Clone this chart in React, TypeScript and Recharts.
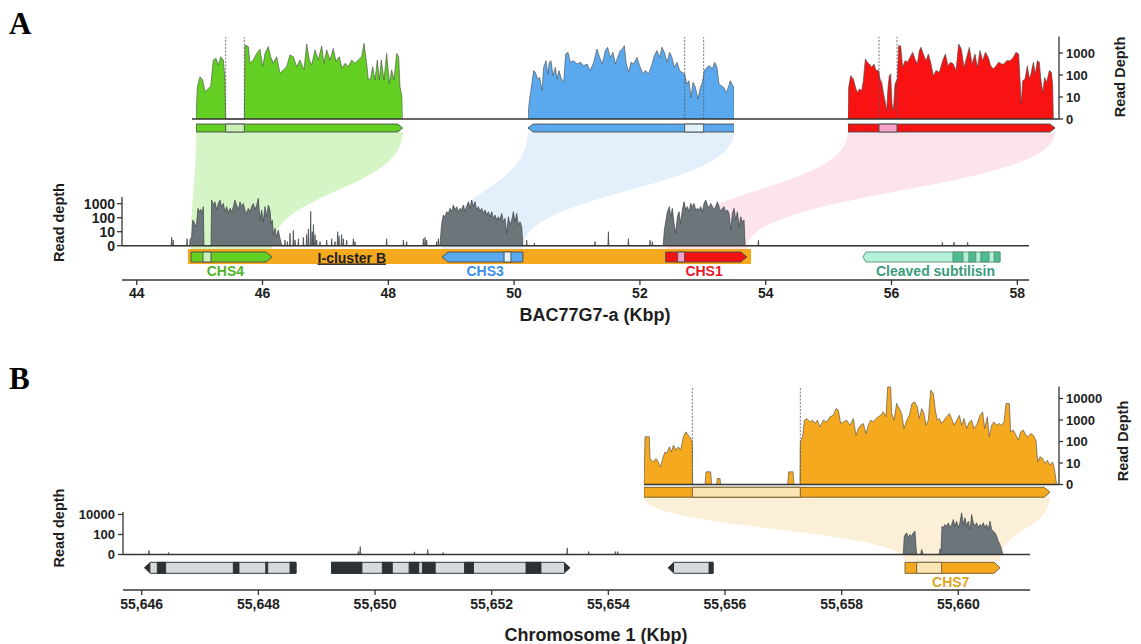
import React from 'react';
import { ComposedChart, Area, XAxis, YAxis, ReferenceArea, ReferenceLine, ReferenceDot } from 'recharts';

type Pt = [number, number];
type Seg = [number, number];
interface Gene { name: string; start: number; end: number; strand: number; segs: Seg[] }
interface GeneLabel { name: string; text: string; x: number; y: number }

// ---------------- Panel A, zoomed tracks: [position in gene (bp), log10 read depth]
const chs4Zoom: Pt[] = [
  [0, 0], [8, 1.47], [24, 1.92], [40, 1.77], [54, 1.24], [74, 1.39], [88, 1.47], [104, 2.68], [120, 2.76], [134, 2.45], [148, 2.83], [164, 2.68], [174, 1.85], [178, 0],
  [290, 0], [294, 3.36], [314, 3.29], [324, 2.53], [344, 2.68], [364, 2.98], [384, 3.17], [400, 2.38], [414, 2.98], [434, 3.29], [448, 2.83], [464, 2.53], [484, 2.83], [504, 2.08], [524, 2.23], [544, 2.38], [564, 2.91], [584, 2.83], [604, 2.38], [624, 2.68], [648, 2.23], [664, 3.41], [680, 2.68], [694, 2.45], [714, 3.14], [734, 2.68], [754, 3.32], [768, 2.53], [784, 3.14], [804, 2.68], [824, 3.21], [840, 2.61], [860, 2.83], [876, 2.3], [894, 2.53], [914, 2.38], [934, 2.68], [954, 2.53], [974, 2.68], [994, 2.83], [1008, 3.44], [1024, 2.53], [1034, 1.77], [1048, 1.85], [1060, 2.38], [1074, 1.77], [1088, 2.68], [1100, 1.77], [1112, 2.68], [1128, 1.77], [1144, 2.98], [1160, 1.62], [1174, 2.23], [1188, 1.77], [1204, 2.98], [1216, 2.83], [1224, 1.47], [1236, 1.02], [1240, 0],
];
const chs3Zoom: Pt[] = [
  [0, 0], [6, 0.68], [34, 2.2], [44, 2.12], [58, 1.82], [70, 1.89], [84, 1.29], [94, 2.35], [108, 2.65], [118, 2.05], [128, 2.58], [138, 2.65], [150, 1.97], [164, 2.35], [174, 1.82], [186, 2.2], [200, 1.82], [214, 1.67], [226, 2.95], [240, 3.03], [254, 2.58], [274, 2.65], [294, 2.5], [314, 2.58], [334, 2.42], [354, 2.5], [374, 2.2], [394, 2.58], [414, 3.18], [430, 2.8], [446, 2.5], [464, 3.11], [478, 3.26], [494, 2.8], [510, 3.03], [524, 2.5], [538, 2.8], [554, 3.11], [566, 3.18], [578, 3.33], [590, 2.5], [604, 2.12], [618, 2.58], [634, 2.5], [654, 2.8], [670, 2.42], [690, 2.05], [704, 2.2], [724, 2.05], [744, 2.5], [758, 2.88], [774, 3.11], [790, 2.8], [804, 3.26], [818, 3.03], [834, 2.58], [850, 3.03], [864, 2.8], [878, 2.35], [894, 2.58], [910, 2.2], [924, 2.12], [940, 2.05], [954, 1.59], [966, 1.74], [978, 0.98], [990, 1.67], [1004, 1.44], [1020, 0.91], [1034, 1.44], [1046, 1.67], [1058, 2.2], [1074, 2.35], [1090, 2.42], [1106, 2.27], [1120, 2.58], [1134, 2.35], [1146, 1.59], [1158, 1.52], [1174, 1.44], [1190, 1.21], [1202, 1.44], [1214, 1.74], [1228, 1.52], [1236, 1.44], [1238, 0],
];
const chs1Zoom: Pt[] = [
  [0, 0], [4, 1.44], [16, 1.97], [32, 1.82], [48, 1.36], [58, 1.21], [68, 1.36], [82, 1.29], [92, 1.74], [104, 2.73], [116, 2.58], [128, 2.5], [142, 2.35], [156, 2.5], [168, 2.2], [184, 2.2], [192, 1.82], [202, 1.67], [212, 1.21], [222, 0.83], [232, 0.38], [240, 1.44], [248, 1.97], [256, 2.05], [264, 0.68], [272, 0.38], [282, 1.59], [296, 1.82], [304, 3.33], [316, 3.33], [328, 2.35], [342, 2.65], [356, 2.58], [372, 2.8], [388, 3.03], [402, 2.73], [416, 2.5], [428, 3.11], [438, 3.26], [452, 2.95], [468, 2.65], [482, 2.95], [496, 2.58], [512, 1.97], [528, 2.2], [548, 2.12], [568, 2.65], [584, 2.95], [600, 2.42], [616, 2.58], [632, 2.5], [648, 2.2], [664, 3.41], [680, 3.18], [696, 2.35], [712, 2.8], [728, 3.26], [744, 2.5], [762, 2.95], [776, 2.35], [792, 3.11], [808, 2.65], [824, 3.03], [842, 2.8], [856, 2.42], [872, 2.27], [888, 2.42], [904, 2.58], [922, 2.5], [936, 2.5], [952, 2.65], [972, 2.65], [992, 2.8], [1008, 3.03], [1024, 2.95], [1032, 1.82], [1040, 0.68], [1048, 1.74], [1062, 1.82], [1076, 2.42], [1088, 1.82], [1098, 2.05], [1112, 2.58], [1124, 2.05], [1136, 2.65], [1148, 2.58], [1156, 1.89], [1168, 1.21], [1180, 1.89], [1192, 1.67], [1208, 2.2], [1220, 2.12], [1228, 1.59], [1232, 0],
];
const chs4ZoomGene: Gene = { name: 'chs4', start: 0, end: 1240, strand: 1, segs: [[178, 290]] };
const chs3ZoomGene: Gene = { name: 'chs3', start: 0, end: 1238, strand: -1, segs: [[940, 1054]] };
const chs1ZoomGene: Gene = { name: 'chs1', start: 0, end: 1242, strand: 1, segs: [[186, 294]] };

// ---------------- Panel A, BAC77G7-a: [kbp, log10 read depth]
const bacCoverage: Pt[] = [
  [44.842, 0], [44.847, 0.4], [44.874, 0.64], [44.889, 1.83], [44.911, 1.71], [44.932, 1.36], [44.953, 1.6], [44.974, 2.67], [44.995, 2.43], [45.017, 2.6], [45.038, 2.31], [45.059, 2.79], [45.07, 0],
  [45.181, 0], [45.191, 3.26], [45.218, 2.9], [45.244, 3.14], [45.271, 2.55], [45.297, 3.02], [45.324, 3.26], [45.35, 2.79], [45.377, 3.02], [45.403, 2.43], [45.43, 2.79], [45.456, 2.31], [45.483, 2.67], [45.509, 2.43], [45.536, 2.79], [45.562, 3.26], [45.589, 2.9], [45.615, 2.55], [45.642, 3.14], [45.668, 2.79], [45.695, 3.02], [45.721, 2.55], [45.748, 2.31], [45.774, 2.67], [45.801, 2.43], [45.827, 2.79], [45.854, 3.02], [45.88, 2.55], [45.907, 2.9], [45.933, 3.38], [45.96, 1.83], [45.986, 2.55], [46.013, 1.71], [46.039, 2.79], [46.066, 2.07], [46.092, 2.9], [46.119, 2.55], [46.135, 1.6], [46.156, 1.83], [46.172, 0.76], [46.198, 1.24], [46.225, 0.64], [46.251, 1.12], [46.278, 0.52], [46.299, 0.17], [46.315, 0],
  [48.82, 0], [48.849, 1.6], [48.875, 2.19], [48.902, 2.07], [48.928, 2.43], [48.955, 2.31], [48.981, 2.67], [49.008, 2.43], [49.034, 2.9], [49.061, 2.55], [49.087, 2.79], [49.114, 2.43], [49.14, 2.67], [49.167, 2.55], [49.193, 2.9], [49.22, 2.43], [49.246, 2.79], [49.273, 3.14], [49.299, 2.67], [49.326, 3.26], [49.352, 2.79], [49.379, 3.14], [49.405, 2.55], [49.432, 2.79], [49.458, 2.43], [49.485, 2.67], [49.511, 2.31], [49.538, 2.55], [49.564, 2.19], [49.591, 2.43], [49.617, 2.07], [49.644, 2.43], [49.67, 1.95], [49.697, 2.19], [49.723, 1.83], [49.75, 2.07], [49.776, 1.83], [49.803, 2.31], [49.829, 1.71], [49.856, 1.95], [49.882, 0.88], [49.909, 2.07], [49.935, 1.48], [49.962, 1.83], [49.988, 2.43], [50.015, 1.71], [50.041, 2.31], [50.068, 1.48], [50.094, 1.71], [50.121, 1.36], [50.14, 0],
  [52.37, 0], [52.389, 1.12], [52.415, 1.83], [52.437, 2.43], [52.468, 2.79], [52.49, 2.07], [52.516, 2.67], [52.543, 1.6], [52.569, 0.88], [52.596, 2.07], [52.622, 2.43], [52.649, 1.6], [52.675, 2.55], [52.702, 3.14], [52.728, 2.55], [52.755, 2.79], [52.781, 2.43], [52.808, 3.02], [52.834, 2.79], [52.861, 3.02], [52.887, 2.55], [52.914, 2.67], [52.94, 2.55], [52.967, 2.79], [52.993, 2.43], [53.02, 3.02], [53.046, 3.26], [53.073, 2.9], [53.099, 2.67], [53.126, 3.02], [53.152, 2.79], [53.179, 2.55], [53.205, 2.79], [53.232, 3.14], [53.258, 2.79], [53.285, 2.43], [53.311, 2.67], [53.338, 2.79], [53.364, 2.43], [53.391, 2.55], [53.417, 2.31], [53.444, 1.12], [53.47, 2.31], [53.497, 2.67], [53.523, 1.83], [53.55, 2.43], [53.576, 1.36], [53.603, 2.07], [53.629, 1.71], [53.656, 1.83], [53.672, 0],
];
const bacSpikes: Pt[] = [
  [44.556, 0.6], [44.58, 0.4], [44.8, 0.5], [46.357, 0.4], [46.395, 0.3], [46.437, 0.9], [46.49, 1.1], [46.517, 0.4], [46.57, 0.5], [46.649, 0.6], [46.702, 0.8], [46.729, 1.2], [46.766, 2.45], [46.79, 1.0], [46.81, 1.5], [46.835, 0.8], [46.861, 0.4], [46.914, 0.3], [47.02, 0.4], [47.1, 0.5], [47.152, 0.3], [47.195, 1.0], [47.216, 0.7], [47.258, 0.8], [47.285, 0.5], [47.338, 0.4], [47.444, 0.5], [47.47, 0.3], [47.974, 0.5], [48.239, 0.4], [48.292, 0.3], [48.557, 0.5], [48.584, 0.6], [48.61, 0.4], [48.769, 0.3], [48.796, 0.5], [50.2, 0.4], [50.322, 0.2], [51.287, 0.3], [51.499, 1.0], [51.817, 0.5], [52.161, 0.4], [52.198, 0.3], [53.884, 0.4], [56.808, 0.25], [56.993, 0.25], [57.21, 0.25],
];
const bacGenes: Gene[] = [
  { name: 'icluster', start: 44.816, end: 53.767, strand: 0, segs: [] },
  { name: 'chs4', start: 44.863, end: 46.151, strand: 1, segs: [[45.054, 45.181]] },
  { name: 'chs3', start: 48.854, end: 50.14, strand: -1, segs: [[49.84, 49.95]] },
  { name: 'chs1', start: 52.41, end: 53.7, strand: 1, segs: [[52.6, 52.71]] },
  { name: 'subtilisin', start: 55.545, end: 57.725, strand: -1, segs: [[56.977, 57.136], [57.23, 57.34], [57.42, 57.55], [57.63, 57.725]] },
];
const bacLabels: GeneLabel[] = [
  { name: 'chs4', text: 'CHS4', x: 45.41, y: -1.77 },
  { name: 'icluster', text: 'I-cluster B', x: 47.42, y: -0.84 },
  { name: 'chs3', text: 'CHS3', x: 49.54, y: -1.77 },
  { name: 'chs1', text: 'CHS1', x: 53.02, y: -1.77 },
  { name: 'subtilisin', text: 'Cleaved subtilisin', x: 56.7, y: -1.77 },
];
const bacTicks = [44, 46, 48, 50, 52, 54, 56, 58];

// ---------------- Panel B, zoomed CHS7 track
const chs7Zoom: Pt[] = [
  [0, 0], [3, 2.22], [16, 2.22], [18, 1.21], [23, 1.13], [28, 1.05], [36, 1.21], [43, 1.05], [50, 0.82], [56, 1.21], [63, 1.52], [68, 1.44], [76, 1.75], [83, 1.52], [88, 1.83], [96, 1.6], [103, 1.75], [110, 1.6], [118, 2.22], [126, 2.45], [133, 2.29], [140, 2.14], [145, 1.98], [146, 0],
  [183, 0], [186, 0.59], [200, 0.59], [203, 0], [218, 0], [220, 0.28], [228, 0.28], [230, 0], [431, 0], [434, 0.59], [447, 0.59], [450, 0],
  [468, 0], [469, 1.98], [476, 2.22], [481, 2.99], [488, 3.07], [498, 2.91], [506, 2.99], [513, 2.84], [520, 2.99], [528, 2.68], [538, 2.99], [548, 2.91], [558, 3.15], [568, 3.22], [576, 3.53], [583, 3.46], [590, 2.84], [598, 2.91], [608, 2.99], [618, 2.76], [628, 3.07], [636, 2.29], [643, 2.6], [650, 2.76], [658, 2.84], [666, 2.37], [673, 2.76], [680, 2.99], [688, 2.91], [696, 3.07], [703, 3.15], [710, 3.22], [718, 3.38], [726, 3.15], [731, 4.54], [740, 4.54], [743, 3.3], [750, 2.99], [758, 3.77], [766, 3.53], [773, 3.3], [780, 2.6], [788, 2.99], [796, 3.22], [804, 3.77], [812, 3.84], [820, 3.61], [826, 3.07], [833, 3.53], [840, 3.3], [846, 2.76], [853, 2.99], [860, 4.39], [868, 4.23], [874, 3.46], [880, 2.99], [886, 3.07], [893, 2.84], [900, 2.99], [908, 3.15], [916, 3.3], [923, 3.07], [930, 2.76], [938, 2.99], [946, 3.22], [953, 2.76], [960, 3.07], [968, 2.6], [976, 2.91], [983, 2.99], [990, 2.6], [998, 2.76], [1008, 3.22], [1016, 3.38], [1022, 2.6], [1030, 3.15], [1036, 2.22], [1043, 2.76], [1050, 2.91], [1058, 2.76], [1066, 2.84], [1073, 2.76], [1080, 2.91], [1086, 3.77], [1096, 3.77], [1100, 2.45], [1108, 2.53], [1116, 2.29], [1123, 2.06], [1130, 2.45], [1138, 2.53], [1146, 2.29], [1153, 2.22], [1160, 2.37], [1168, 2.29], [1176, 2.06], [1181, 1.05], [1188, 1.29], [1196, 1.21], [1203, 0.98], [1210, 1.13], [1218, 0.9], [1226, 1.05], [1231, 0.74], [1236, 0.2], [1238, 0],
];
const chs7ZoomGene: Gene = { name: 'chs7', start: 0, end: 1218, strand: 1, segs: [[145, 469]] };

// ---------------- Panel B, chromosome 1: [kbp, log10 read depth]
const chrCoverage: Pt[] = [
  [55659.057, 0], [55659.074, 1.83], [55659.114, 2.17], [55659.143, 1.67], [55659.171, 2.0], [55659.2, 1.83], [55659.228, 2.17], [55659.257, 2.33], [55659.274, 0.83], [55659.286, 0],
  [55659.354, 0], [55659.371, 0.5], [55659.4, 0],
  [55659.674, 0], [55659.686, 0.57], [55659.703, 0.3], [55659.72, 2.83], [55659.743, 2.67], [55659.771, 3.0], [55659.8, 2.83], [55659.828, 3.17], [55659.857, 2.67], [55659.886, 3.0], [55659.914, 3.5], [55659.943, 2.83], [55659.971, 3.33], [55660.0, 2.67], [55660.028, 3.17], [55660.057, 4.17], [55660.085, 3.0], [55660.114, 3.67], [55660.143, 2.83], [55660.171, 3.33], [55660.2, 2.5], [55660.228, 4.0], [55660.257, 3.17], [55660.285, 2.83], [55660.314, 3.17], [55660.343, 2.67], [55660.371, 3.0], [55660.4, 2.83], [55660.428, 3.17], [55660.457, 2.67], [55660.485, 3.0], [55660.514, 2.5], [55660.543, 3.33], [55660.571, 2.5], [55660.6, 2.33], [55660.628, 2.17], [55660.657, 1.83], [55660.685, 1.33], [55660.714, 1.0], [55660.743, 0.5], [55660.76, 0],
];
const chrSpikes: Pt[] = [
  [55646.125, 0.43], [55646.46, 0.2], [55649.715, 0.3], [55649.746, 0.8], [55650.677, 0.27], [55650.903, 0.5], [55651.167, 0.2], [55653.295, 0.67], [55653.662, 0.3], [55654.12, 0.3], [55654.16, 0.3],
];
const chrGenes: Gene[] = [
  { name: 'grey', start: 55646.045, end: 55648.645, strand: -1, segs: [[55646.267, 55646.411], [55647.57, 55647.668], [55648.126, 55648.16], [55648.542, 55648.645]] },
  { name: 'grey', start: 55649.254, end: 55653.343, strand: 1, segs: [[55649.254, 55649.775], [55650.125, 55650.296], [55650.584, 55650.75], [55650.812, 55651.032], [55651.534, 55651.688], [55652.588, 55652.845]] },
  { name: 'grey', start: 55655.023, end: 55655.795, strand: -1, segs: [[55655.726, 55655.795]] },
  { name: 'chs7', start: 55659.086, end: 55660.715, strand: 1, segs: [[55659.286, 55659.715]] },
];
const chrLabels: GeneLabel[] = [{ name: 'chs7', text: 'CHS7', x: 55659.87, y: -2.78 }];
const chrTicks = [55646, 55648, 55650, 55652, 55654, 55656, 55658, 55660];

// ---------------- depth axes (log10 levels and labels)
const depthTicks3 = [0, 1, 2, 3];
const depthLabels3 = ['0', '10', '100', '1000'];
const depthTicks4 = [0, 1, 2, 3, 4];
const depthLabels4 = ['0', '10', '100', '1000', '10000'];
const depthTicksChr = [0, 2, 4];
const depthLabelsChr = ['0', '100', '10000'];

// ---------------- styles & layout
const FONT = '"Liberation Sans", Arial, Helvetica, sans-serif';
const INK = '#353535';
const GENE_STYLE: Record<string, { fill: string; seg: string; tip?: string; stroke: string; tipPx?: number }> = {
  icluster: { fill: '#f5a91e', seg: '#f5a91e', stroke: 'none' },
  chs4: { fill: '#63cf22', seg: '#c9f1b6', stroke: '#4a4a4a' },
  chs3: { fill: '#5aa9ee', seg: '#e1f2fb', stroke: '#4a4a4a' },
  chs1: { fill: '#f31313', seg: '#f4a2c6', stroke: '#4a4a4a' },
  subtilisin: { fill: '#b5f0d8', seg: '#4dbd8d', stroke: '#5c8f7a', tipPx: 3 },
  grey: { fill: '#d5dbdc', seg: '#2d3134', tip: '#2d3134', stroke: '#2d3134' },
  chs7: { fill: '#f5a91e', seg: '#fbe5b4', stroke: '#6f5a2c' },
};
const LABEL_COLOR: Record<string, string> = {
  chs4: '#50b22a', icluster: '#1e1e1e', chs3: '#3b8fe6', chs1: '#e8182a', subtilisin: '#3a9c7c', chs7: '#e0a424',
};
const COV_FILL = { chs4: '#63cf22', chs3: '#5aa9ee', chs1: '#f81212', chs7: '#f5a91e', gray: '#6c7579' };

const PX_A = 1 / 6; // px per bp in panel A zoom tracks
const PX_B = 1 / 3; // px per bp in panel B zoom track
const TOP_A = { top: 31, h: 110, axisLeft: 192, axisRight: 1059 };
const TRACKS_A = [
  { key: 'chs4', data: chs4Zoom, gene: chs4ZoomGene, left: 196, dom: [0, 1240] as [number, number] },
  { key: 'chs3', data: chs3Zoom, gene: chs3ZoomGene, left: 527.7, dom: [0, 1238] as [number, number] },
  { key: 'chs1', data: chs1Zoom, gene: chs1ZoomGene, left: 848, dom: [0, 1242] as [number, number] },
];
const LOW_A = { left: 122, top: 197, w: 907, h: 83, dom: [43.766, 58.186] as [number, number], lev: [-2.45, 3.48] as [number, number] };
const TOP_B = { left: 644, top: 377, h: 129, dom: [0, 1245] as [number, number] };
const LOW_B = { left: 123, top: 512, w: 907, h: 78, dom: [55645.679, 55661.229] as [number, number], lev: [-3.55, 4.25] as [number, number] };
const YW = 60;
const XH = 30;
const PAD = 10;

const rows = (pts: Pt[]) => pts.map(([x, v]) => ({ x, v }));
function withSpikes(blocks: Pt[], spikes: Pt[], hw: number) {
  const out = rows(blocks);
  spikes.forEach(([x, v]) => { out.push({ x: x - hw, v: 0 }, { x, v }, { x: x + hw, v: 0 }); });
  return out.sort((a, b) => a.x - b.x);
}

function arrowShape(strand: number, tipPx: number, fill: string, tipFill: string, stroke: string) {
  return (p: any) => {
    const x = Number(p.x), y = Number(p.y), w = Number(p.width), h = Number(p.height);
    if (!isFinite(x) || !isFinite(w) || !isFinite(y) || !isFinite(h)) return <g />;
    const t = strand === 0 ? 0 : Math.min(tipPx, w / 2);
    const pts = strand >= 0
      ? [[x, y], [x + w - t, y], [x + w, y + h / 2], [x + w - t, y + h], [x, y + h]]
      : [[x + t, y], [x + w, y], [x + w, y + h], [x + t, y + h], [x, y + h / 2]];
    const poly = pts.map((q) => q.join(',')).join(' ');
    const bx = strand >= 0 ? x : x + t;
    return (
      <g>
        <polygon points={poly} fill={tipFill} />
        <rect x={bx} y={y} width={Math.max(0, w - t)} height={h} fill={fill} />
        <polygon points={poly} fill="none" stroke={stroke} strokeWidth={0.9} />
      </g>
    );
  };
}

function geneMarks(genes: Gene[], y1: number, y2: number, tipPx: number, prefix: string) {
  const out: React.ReactNode[] = [];
  genes.forEach((g, gi) => {
    const s = GENE_STYLE[g.name];
    out.push(
      <ReferenceArea key={`${prefix}-g${gi}`} x1={g.start} x2={g.end} y1={y1} y2={y2} ifOverflow="visible"
        shape={arrowShape(g.strand, s.tipPx ?? tipPx, s.fill, s.tip ?? s.fill, s.stroke)} />
    );
    g.segs.forEach(([a, b], i) => {
      out.push(
        <ReferenceArea key={`${prefix}-g${gi}-s${i}`} x1={a} x2={b} y1={y1} y2={y2} ifOverflow="visible"
          fill={s.seg} fillOpacity={1} stroke={s.stroke} strokeWidth={0.9} />
      );
    });
  });
  return out;
}

function labelMarks(labels: GeneLabel[], size: number) {
  return labels.map((l) => (
    <ReferenceDot key={l.text} x={l.x} y={l.y} r={0} ifOverflow="visible"
      shape={(p: any) => (
        <text x={p.cx} y={p.cy} dy="0.36em" textAnchor="middle" fontFamily={FONT} fontWeight={700} fontSize={size}
          fill={LABEL_COLOR[l.name]} style={l.name === 'icluster' ? { textDecoration: 'underline' } : undefined}>{l.text}</text>
      )} />
  ));
}

function dashMarks(gene: Gene, top: number) {
  const xs: number[] = [];
  gene.segs.forEach(([a, b]) => { xs.push(a, b); });
  return xs.map((x, i) => (
    <ReferenceLine key={`d${i}`} segment={[{ x, y: 0 }, { x, y: top }]} stroke="#555" strokeWidth={0.8} strokeDasharray="2 1.5" zIndex={1500} />
  ));
}

const tickStyle = (size: number) => ({ fontSize: size, fontWeight: 700, fill: '#1e1e1e', fontFamily: FONT });
const fmtFrom = (ticks: number[], labels: string[]) => (v: any) => labels[ticks.indexOf(Number(v))] ?? '';
const pos = (left: number, top: number): React.CSSProperties => ({ position: 'absolute', left, top });
const lin = (v: number, d: [number, number], p0: number, w: number) => p0 + ((v - d[0]) / (d[1] - d[0])) * w;

export default function App() {
  // connector ribbons between zoomed tracks and genome tracks
  const ribbonRowsA = [
    { y: 132 } as Record<string, any>,
    { y: 249 } as Record<string, any>,
  ];
  TRACKS_A.forEach((t) => {
    const low = bacGenes.find((g) => g.name === t.key)!;
    ribbonRowsA[0][t.key] = [t.left + t.gene.start * PX_A, t.left + t.gene.end * PX_A];
    ribbonRowsA[1][t.key] = [lin(low.start, LOW_A.dom, LOW_A.left, LOW_A.w), lin(low.end, LOW_A.dom, LOW_A.left, LOW_A.w)];
  });
  const chs7Low = chrGenes.find((g) => g.name === 'chs7')!;
  const ribbonRowsB = [
    { y: 497, chs7: [TOP_B.left + chs7ZoomGene.start * PX_B, TOP_B.left + chs7ZoomGene.end * PX_B] },
    { y: 561, chs7: [lin(chs7Low.start, LOW_B.dom, LOW_B.left, LOW_B.w), lin(chs7Low.end, LOW_B.dom, LOW_B.left, LOW_B.w)] },
  ];
  const ribbonFill: Record<string, string> = { chs4: '#d6f5c6', chs3: '#e3f0fb', chs1: '#fde3eb', chs7: '#fcefd8' };

  const bacRows = withSpikes(bacCoverage, bacSpikes, 0.008);
  const chrRows = withSpikes(chrCoverage, chrSpikes, 0.009);
  const topBW = (TOP_B.dom[1] - TOP_B.dom[0]) * PX_B;

  return (
    <div style={{ position: 'absolute', left: 0, top: 0, width: 1141, height: 644, overflow: 'hidden', background: '#fff' }}>
      {/* ribbons A */}
      <div style={pos(0, 0)}>
        <ComposedChart width={1141} height={644} layout="vertical" data={ribbonRowsA} margin={{ top: 0, right: 0, bottom: 0, left: 0 }}>
          <XAxis type="number" domain={[0, 1141]} hide allowDataOverflow />
          <YAxis type="number" dataKey="y" domain={[0, 644]} hide allowDataOverflow />
          {TRACKS_A.map((t) => (
            <Area key={t.key} dataKey={t.key} type="bumpY" fill={ribbonFill[t.key]} fillOpacity={1} stroke="none" isAnimationActive={false} dot={false} activeDot={false} />
          ))}
        </ComposedChart>
      </div>
      {/* ribbon B */}
      <div style={pos(0, 0)}>
        <ComposedChart width={1141} height={644} layout="vertical" data={ribbonRowsB} margin={{ top: 0, right: 0, bottom: 0, left: 0 }}>
          <XAxis type="number" domain={[0, 1141]} hide allowDataOverflow />
          <YAxis type="number" dataKey="y" domain={[0, 644]} hide allowDataOverflow />
          <Area dataKey="chs7" type="bumpY" fill={ribbonFill.chs7} fillOpacity={1} stroke="none" isAnimationActive={false} dot={false} activeDot={false} />
        </ComposedChart>
      </div>

      {/* Panel A zoom tracks */}
      {TRACKS_A.map((t) => (
        <div key={t.key} style={pos(t.left, TOP_A.top)}>
          <ComposedChart width={(t.dom[1] - t.dom[0]) * PX_A} height={TOP_A.h} data={rows(t.data)} margin={{ top: 0, right: 0, bottom: 0, left: 0 }}>
            <XAxis type="number" dataKey="x" domain={t.dom} hide allowDataOverflow />
            <YAxis type="number" domain={[-1, 4]} hide allowDataOverflow />
            <Area dataKey="v" type="linear" baseValue={0} fill={(COV_FILL as any)[t.key]} fillOpacity={1} stroke="#474747" strokeWidth={0.6} isAnimationActive={false} dot={false} activeDot={false} />
            {dashMarks(t.gene, 3.73)}
            {geneMarks([t.gene], -0.23, -0.59, 5, t.key)}
          </ComposedChart>
        </div>
      ))}
      {/* Panel A zoom axis + baseline */}
      <div style={pos(TOP_A.axisLeft, TOP_A.top)}>
        <ComposedChart width={TOP_A.axisRight - TOP_A.axisLeft + YW} height={TOP_A.h} data={[{ x: 0 }, { x: 1 }]} margin={{ top: 0, right: 0, bottom: 0, left: 0 }}>
          <XAxis type="number" dataKey="x" domain={[0, 1]} hide />
          <YAxis orientation="right" type="number" domain={[-1, 4]} ticks={depthTicks3} interval={0} tickFormatter={fmtFrom(depthTicks3, depthLabels3)}
            width={YW} axisLine={false} tickLine={{ stroke: INK, strokeWidth: 1.3 }} tickSize={4} tickMargin={3} tick={tickStyle(13)} allowDataOverflow />
          <ReferenceLine y={0} stroke={INK} strokeWidth={1.5} zIndex={1500} />
          <ReferenceLine segment={[{ x: 1, y: 0 }, { x: 1, y: 3.75 }]} stroke={INK} strokeWidth={1.3} zIndex={1500} />
        </ComposedChart>
      </div>

      {/* Panel A genome track */}
      <div style={pos(LOW_A.left - YW, LOW_A.top - PAD)}>
        <ComposedChart width={LOW_A.w + YW} height={LOW_A.h + XH + PAD} data={bacRows} margin={{ top: PAD, right: 0, bottom: 0, left: 0 }}>
          <XAxis type="number" dataKey="x" domain={LOW_A.dom} ticks={bacTicks} interval={0} height={XH} allowDataOverflow
            axisLine={{ stroke: INK, strokeWidth: 1.5 }} tickLine={{ stroke: INK, strokeWidth: 1.3 }} tickSize={5} tickMargin={3} tick={tickStyle(14)} />
          <YAxis type="number" domain={LOW_A.lev} ticks={depthTicks3} interval={0} tickFormatter={fmtFrom(depthTicks3, depthLabels3)}
            width={YW} axisLine={false} tickLine={{ stroke: INK, strokeWidth: 1.3 }} tickSize={5} tickMargin={2} tick={tickStyle(14)} allowDataOverflow />
          <Area dataKey="v" type="linear" baseValue={0} fill={COV_FILL.gray} fillOpacity={1} stroke="#3d4447" strokeWidth={0.7} isAnimationActive={false} dot={false} activeDot={false} />
          <ReferenceLine y={0} stroke={INK} strokeWidth={1.5} zIndex={1500} />
          <ReferenceLine segment={[{ x: LOW_A.dom[0], y: 0 }, { x: LOW_A.dom[0], y: LOW_A.lev[1] }]} stroke={INK} strokeWidth={1.3} />
          {geneMarks(bacGenes.slice(0, 1), -0.236, -1.307, 0, 'ic')}
          {geneMarks(bacGenes.slice(1), -0.45, -1.164, 6, 'ba')}
          {labelMarks(bacLabels, 14)}
        </ComposedChart>
      </div>

      {/* Panel B zoom track */}
      <div style={pos(TOP_B.left, TOP_B.top)}>
        <ComposedChart width={topBW + YW} height={TOP_B.h} data={rows(chs7Zoom)} margin={{ top: 0, right: 0, bottom: 0, left: 0 }}>
          <XAxis type="number" dataKey="x" domain={TOP_B.dom} hide allowDataOverflow />
          <YAxis orientation="right" type="number" domain={[-1, 5]} ticks={depthTicks4} interval={0} tickFormatter={fmtFrom(depthTicks4, depthLabels4)}
            width={YW} axisLine={false} tickLine={{ stroke: INK, strokeWidth: 1.3 }} tickSize={4} tickMargin={3} tick={tickStyle(13)} allowDataOverflow />
          <Area dataKey="v" type="linear" baseValue={0} fill={COV_FILL.chs7} fillOpacity={1} stroke="#474747" strokeWidth={0.6} isAnimationActive={false} dot={false} activeDot={false} />
          {dashMarks(chs7ZoomGene, 4.55)}
          <ReferenceLine y={0} stroke={INK} strokeWidth={1.5} zIndex={1500} />
          <ReferenceLine segment={[{ x: TOP_B.dom[1], y: 0 }, { x: TOP_B.dom[1], y: 4.56 }]} stroke={INK} strokeWidth={1.3} />
          {geneMarks([chs7ZoomGene], -0.13, -0.59, 6, 'zb')}
        </ComposedChart>
      </div>

      {/* Panel B genome track */}
      <div style={pos(LOW_B.left - YW, LOW_B.top - PAD)}>
        <ComposedChart width={LOW_B.w + YW} height={LOW_B.h + XH + PAD} data={chrRows} margin={{ top: PAD, right: 0, bottom: 0, left: 0 }}>
          <XAxis type="number" dataKey="x" domain={LOW_B.dom} ticks={chrTicks} interval={0} height={XH} allowDataOverflow
            tickFormatter={(v: any) => Number(v).toLocaleString('en-US')}
            axisLine={{ stroke: INK, strokeWidth: 1.5 }} tickLine={{ stroke: INK, strokeWidth: 1.3 }} tickSize={5} tickMargin={4} tick={tickStyle(14)} />
          <YAxis type="number" domain={LOW_B.lev} ticks={depthTicksChr} interval={0} tickFormatter={fmtFrom(depthTicksChr, depthLabelsChr)}
            width={YW} axisLine={false} tickLine={{ stroke: INK, strokeWidth: 1.3 }} tickSize={5} tickMargin={3} tick={tickStyle(13)} allowDataOverflow />
          <Area dataKey="v" type="linear" baseValue={0} fill={COV_FILL.gray} fillOpacity={1} stroke="#3d4447" strokeWidth={0.7} isAnimationActive={false} dot={false} activeDot={false} />
          <ReferenceLine y={0} stroke={INK} strokeWidth={1.5} zIndex={1500} />
          <ReferenceLine segment={[{ x: LOW_B.dom[0], y: 0 }, { x: LOW_B.dom[0], y: LOW_B.lev[1] }]} stroke={INK} strokeWidth={1.3} />
          {geneMarks(chrGenes, -0.78, -1.88, 6, 'cb')}
          {labelMarks(chrLabels, 14)}
        </ComposedChart>
      </div>

      {/* titles */}
      <svg width={1141} height={644} style={{ position: 'absolute', left: 0, top: 0, pointerEvents: 'none' }}>
        <g fontFamily='"Liberation Serif", "Times New Roman", serif' fontWeight={700} fontSize={31} fill="#000">
          <text x={9} y={34}>A</text>
          <text x={9} y={389}>B</text>
        </g>
        <g fontFamily={FONT} fontWeight={700} fill="#1e1e1e">
          <text transform="translate(1124.5,77) rotate(-90)" textAnchor="middle" fontSize={14.5}>Read Depth</text>
          <text transform="translate(1127.5,441) rotate(-90)" textAnchor="middle" fontSize={14.5}>Read Depth</text>
          <text transform="translate(63.5,222.5) rotate(-90)" textAnchor="middle" fontSize={14.5}>Read depth</text>
          <text transform="translate(63.5,528) rotate(-90)" textAnchor="middle" fontSize={14.5}>Read depth</text>
          <text x={595} y={321} textAnchor="middle" fontSize={18}>BAC77G7-a (Kbp)</text>
          <text x={596} y={641} textAnchor="middle" fontSize={18}>Chromosome 1 (Kbp)</text>
        </g>
      </svg>
    </div>
  );
}
